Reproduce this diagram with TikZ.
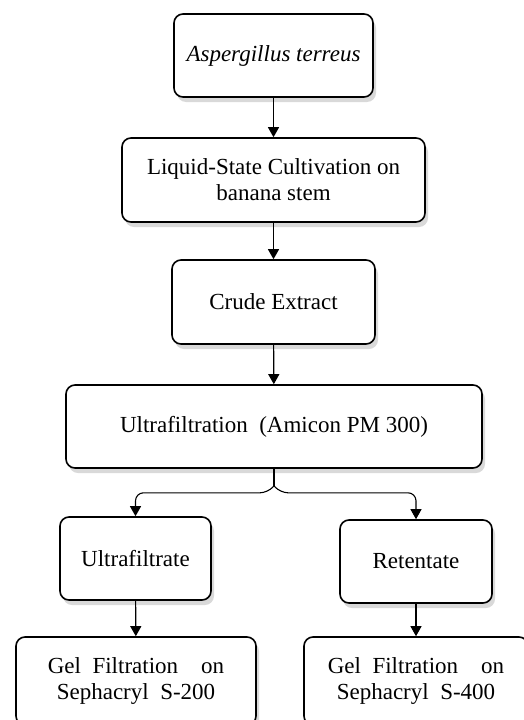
\documentclass[tikz,border=0pt]{standalone}
\usepackage{fontspec}
\setmainfont{Liberation Serif}
\usetikzlibrary{arrows.meta, shadows}

\begin{document}
\begin{tikzpicture}[x=1pt, y=-1pt,
        box/.style={draw, line width=1.6pt, rounded corners=9pt, fill=white,
            align=center, inner sep=0pt, font=\fontsize{23}{26}\selectfont,
            drop shadow={opacity=0.3, shadow xshift=3pt, shadow yshift=-5pt}},
        flow/.style={line width=1.1pt, -{Triangle[width=11pt,length=10pt]}}]
            \useasboundingbox (0,0) rectangle (524,720);
            \clip (0,0) rectangle (524,720);

            % main column
            \node[box, minimum width=199pt, minimum height=83pt] (strain) at (273.5,55.5) {\itshape Aspergillus terreus};
            \node[box, minimum width=303pt, minimum height=84pt] (culture) at (273.5,180) {Liquid-State Cultivation on\\banana stem};
            \node[box, minimum width=203pt, minimum height=84pt] (crude) at (273.5,302) {Crude Extract};
            \node[box, minimum width=416pt, minimum height=83pt] (uf) at (274,426.5) {Ultrafiltration\ \ (Amicon PM 300)};

            % two branches
            \node[box, minimum width=151pt, minimum height=83pt] (filtrate) at (135.5,558.5) {Ultrafiltrate};
            \node[box, minimum width=152pt, minimum height=83pt] (retentate) at (416,561.5) {Retentate};

            \node[box, minimum width=240pt, minimum height=88pt] (gel200) at (136,681) {Gel\ \ Filtration\quad on\\Sephacryl\ \ S-200};
            \node[box, minimum width=224pt, minimum height=88pt] (gel400) at (416,681) {Gel\ \ Filtration\quad on\\Sephacryl\ \ S-400};

            \draw[flow] (strain) -- (culture);
            \draw[flow] (culture) -- (crude);
            \draw[flow] (crude) -- (uf);

            \draw[line width=1.1pt] (uf.south) -- ++(0,17) coordinate (fork);
            \draw[flow, rounded corners=8pt] (fork) -- ++(-6,7) -| (filtrate.north);
            \draw[flow, rounded corners=8pt] (fork) -- ++(6,7) -| (retentate.north);

            \draw[flow] (filtrate) -- (gel200);
            \draw[flow] (retentate) -- (gel400);
        \end{tikzpicture}
\end{document}
